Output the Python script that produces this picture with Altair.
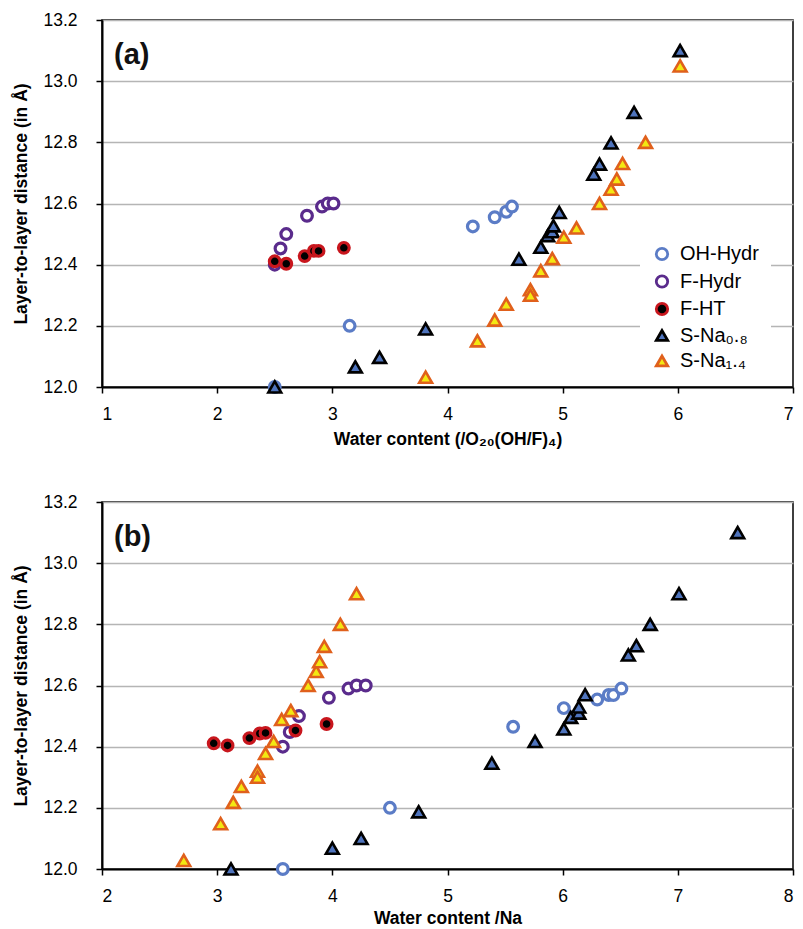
import altair as alt
import pandas as pd

# ---------------- data ----------------
SERIES = ["OH-Hydr", "F-Hydr", "F-HT", "S-Na₀.₈", "S-Na₁.₄"]
SHAPES = ["circle", "circle", "circle", "triangle-up", "triangle-up"]
FILLS = ["#ffffff", "#ffffff", "#000000", "#4f74bd", "#f3e812"]
STROKES = ["#5b7cc6", "#5a2b8c", "#c8161d", "#000000", "#e0601c"]

# panel (a): water content per O20(OH/F)4
a_oh_x = [2.50, 3.15, 4.22, 4.41, 4.51, 4.56]
a_oh_y = [12.00, 12.20, 12.525, 12.555, 12.573, 12.59]
a_fh_x = [2.50, 2.55, 2.60, 2.78, 2.91, 2.96, 3.01]
a_fh_y = [12.40, 12.453, 12.50, 12.56, 12.59, 12.60, 12.60]
a_ft_x = [2.50, 2.60, 2.76, 2.84, 2.88, 3.10]
a_ft_y = [12.411, 12.403, 12.428, 12.445, 12.445, 12.455]
a_s8_x = [2.50, 3.20, 3.41, 3.81, 4.62, 4.81, 4.87, 4.91, 4.92, 4.97, 5.27, 5.32, 5.42, 5.62, 6.02]
a_s8_y = [12.00, 12.066, 12.097, 12.19, 12.418, 12.457, 12.495, 12.508, 12.527, 12.571,
          12.696, 12.729, 12.798, 12.898, 13.10]
a_s14_x = [3.81, 4.26, 4.41, 4.51, 4.72, 4.72, 4.81, 4.91, 5.01, 5.12, 5.32, 5.42, 5.47, 5.52, 5.72, 6.02]
a_s14_y = [12.032, 12.151, 12.219, 12.271, 12.318, 12.30, 12.38, 12.42, 12.49, 12.52,
           12.60, 12.647, 12.68, 12.731, 12.80, 13.05]

# panel (b): water content per Na
b_oh_x = [3.57, 4.50, 5.57, 6.01, 6.30, 6.40, 6.44, 6.51]
b_oh_y = [12.00, 12.20, 12.465, 12.526, 12.554, 12.569, 12.569, 12.59]
b_fh_x = [3.57, 3.63, 3.71, 3.97, 4.14, 4.21, 4.29]
b_fh_y = [12.40, 12.448, 12.50, 12.56, 12.59, 12.60, 12.60]
b_ft_x = [2.97, 3.09, 3.28, 3.37, 3.42, 3.68, 3.95]
b_ft_y = [12.411, 12.404, 12.428, 12.443, 12.445, 12.453, 12.474]
b_s8_x = [3.12, 4.00, 4.25, 4.75, 5.385, 5.76, 6.01, 6.07, 6.14, 6.14, 6.195, 6.57, 6.64, 6.76, 7.01, 7.52]
b_s8_y = [12.00, 12.068, 12.10, 12.187, 12.346, 12.417, 12.458, 12.496, 12.51, 12.53,
          12.57, 12.70, 12.73, 12.80, 12.90, 13.10]
b_s14_x = [2.71, 3.03, 3.14, 3.21, 3.35, 3.35, 3.42, 3.49, 3.56, 3.64, 3.79, 3.86, 3.89, 3.93, 4.07, 4.21]
b_s14_y = [12.028, 12.148, 12.218, 12.27, 12.32, 12.30, 12.378, 12.417, 12.489, 12.518,
           12.60, 12.646, 12.678, 12.728, 12.80, 12.90]

Y_TICKS = [12.0, 12.2, 12.4, 12.6, 12.8, 13.0, 13.2]
A_XTICKS = [1, 2, 3, 4, 5, 6, 7]
B_XTICKS = [2, 3, 4, 5, 6, 7, 8]


def frame(groups):
    rows = []
    for k, (xs, ys) in enumerate(groups):
        for x, y in zip(xs, ys):
            rows.append({"x": x, "y": y, "series": SERIES[k], "k": k})
    return pd.DataFrame(rows)


df_a = frame([(a_oh_x, a_oh_y), (a_fh_x, a_fh_y), (a_ft_x, a_ft_y),
              (a_s8_x, a_s8_y), (a_s14_x, a_s14_y)])
df_b = frame([(b_oh_x, b_oh_y), (b_fh_x, b_fh_y), (b_ft_x, b_ft_y),
              (b_s8_x, b_s8_y), (b_s14_x, b_s14_y)])

W, H = 691, 367


def panel(df, label, xdom, xticks, xtitle, show_legend, xtitle_pad):
    if show_legend:
        leg = alt.Legend(
            title=None, orient="none", legendX=538, legendY=212,
            fillColor="white", padding=12, symbolSize=130,
            symbolStrokeWidth=2.8, labelFontSize=20, labelFont="Liberation Sans",
            labelColor="black", rowPadding=3.5, labelOffset=8,
        )
    else:
        leg = None
    enc_common = dict(
        x=alt.X("x:Q", scale=alt.Scale(domain=xdom, nice=False),
                axis=alt.Axis(values=xticks, title=xtitle, grid=False, format="d",
                              titlePadding=xtitle_pad)),
        y=alt.Y("y:Q", scale=alt.Scale(domain=[12.0, 13.2], nice=False, zero=False),
                axis=alt.Axis(values=Y_TICKS, format=".1f",
                              title="Layer-to-layer distance (in Å)")),
        shape=alt.Shape("series:N", scale=alt.Scale(domain=SERIES, range=SHAPES), legend=leg),
        fill=alt.Fill("series:N", scale=alt.Scale(domain=SERIES, range=FILLS), legend=leg),
        stroke=alt.Stroke("series:N", scale=alt.Scale(domain=SERIES, range=STROKES), legend=leg),
        order=alt.Order("k:Q"),
    )
    circles = alt.Chart(df[df["k"] < 3]).mark_point(
        filled=True, opacity=1, size=115, strokeWidth=3.2
    ).encode(**enc_common)
    tris = alt.Chart(df[df["k"] >= 3]).mark_point(
        filled=True, opacity=1, size=165, strokeWidth=2.6
    ).encode(**enc_common)
    tag = alt.Chart(pd.DataFrame({"t": [label]})).mark_text(
        align="left", baseline="middle", fontSize=29, fontWeight="bold",
        font="Liberation Sans", color="#111111"
    ).encode(text="t:N", x=alt.value(12), y=alt.value(35))
    return alt.layer(circles, tris, tag).properties(width=W, height=H)


pa = panel(df_a, "(a)", [1, 7], A_XTICKS, "Water content (/O₂₀(OH/F)₄)", True, 8)
pb = panel(df_b, "(b)", [2, 8], B_XTICKS, "Water content /Na", False, 5)

chart = alt.vconcat(pa, pb, spacing=43).resolve_scale(
    x="independent", shape="shared", fill="shared", stroke="shared"
).configure(
    font="Liberation Sans",
    padding={"left": 4, "top": 2, "right": 0, "bottom": 0},
).configure_view(
    stroke="black", strokeWidth=1.5
).configure_axis(
    labelFont="Liberation Sans", titleFont="Liberation Sans",
    labelFontSize=17.5, titleFontSize=17.5, titleFontWeight="bold",
    labelColor="black", titleColor="black",
    domainColor="black", domainWidth=2, tickColor="black", tickWidth=1.5, tickSize=6,
    gridColor="#b5b5b5", gridWidth=1.5,
).configure_axisY(
    labelPadding=19, titlePadding=12,
).configure_axisX(
    labelPadding=12,
)

chart.save("out.html", embed_options={"renderer": "svg", "actions": False})
